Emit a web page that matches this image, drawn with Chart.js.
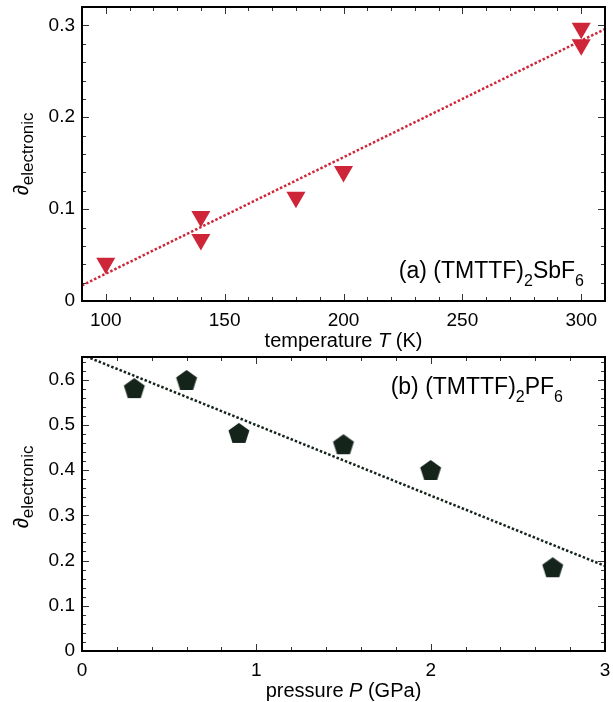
<!DOCTYPE html>
<html>
<head>
<meta charset="utf-8">
<script src="https://cdn.jsdelivr.net/npm/chart.js@4.4.1/dist/chart.umd.min.js"></script>
<style>
  body { margin: 0; background: #fff; }
  canvas { position: absolute; left: 0; }
</style>
</head>
<body>
<canvas id="panelA" width="613" height="352" style="top:0px"></canvas>
<canvas id="panelB" width="613" height="352" style="top:350px"></canvas>
<script>
// (a) (TMTTF)2SbF6 : delta vs temperature
const tempK = [100, 140, 140, 180, 200, 300, 300];
const deltaTemp = [0.041, 0.092, 0.067, 0.113, 0.141, 0.297, 0.279];
const tempFitX = [90, 310];
const tempFitY = [0.017, 0.296];

// (b) (TMTTF)2PF6 : delta vs pressure
const pressureGPa = [0.3, 0.6, 0.9, 1.5, 2.0, 2.7];
const deltaPressure = [0.579, 0.597, 0.48, 0.455, 0.398, 0.183];
const pressureFitX = [0, 3];
const pressureFitY = [0.655, 0.188];

// labelled ticks
const tempTicks = [100, 150, 200, 250, 300];
const tempDeltaTicks = [0, 0.1, 0.2, 0.3];
const pressureTicks = [0, 1, 2, 3];
const pressureDeltaTicks = [0, 0.1, 0.2, 0.3, 0.4, 0.5, 0.6];

const FONT = '"Liberation Sans", Arial, Helvetica, sans-serif';
const RED = '#cf2538';
const DARK = '#15241a';

function pts(xs, ys) {
  return xs.map((x, i) => ({ x: x, y: ys[i] }));
}

// filled pentagon used as a point style
function pentagonSprite(r, color) {
  const c = document.createElement('canvas');
  const size = Math.ceil(r * 2 + 2);
  c.width = size; c.height = size;
  const g = c.getContext('2d');
  g.fillStyle = color;
  g.beginPath();
  for (let i = 0; i < 5; i++) {
    const a = -Math.PI / 2 + i * 2 * Math.PI / 5;
    const px = size / 2 + r * Math.cos(a), py = size / 2 + r * Math.sin(a);
    if (i === 0) g.moveTo(px, py); else g.lineTo(px, py);
  }
  g.closePath();
  g.fill();
  return c;
}

// text runs with subscripts, e.g. [['(a) (TMTTF)',23,0], ['2',16,8], ...]
function runsWidth(ctx, runs) {
  let w = 0;
  runs.forEach(r => { ctx.font = (r[3] || '') + ' ' + r[1] + 'px ' + FONT; w += ctx.measureText(r[0]).width; });
  return w;
}
function drawRuns(ctx, runs, x, y) {
  let cx = x;
  runs.forEach(r => {
    ctx.font = (r[3] || '') + ' ' + r[1] + 'px ' + FONT;
    ctx.fillText(r[0], cx, y + r[2]);
    cx += ctx.measureText(r[0]).width;
  });
}

// frame, inward ticks on all four sides and the text around the plot
const framePlugin = {
  id: 'frame',
  afterDatasetsDraw(chart, args, o) {
    const { ctx, chartArea: a, scales: { x, y } } = chart;
    ctx.save();
    ctx.strokeStyle = '#333';
    ctx.lineWidth = 1;
    ctx.beginPath();
    for (let i = 0; ; i++) {
      const v = o.xStart + i * o.xMinor;
      if (v > x.max + 1e-9) break;
      const len = o.xMajor.some(m => Math.abs(m - v) < 1e-6) ? 7 : 4;
      const px = Math.round(x.getPixelForValue(v)) + 0.5;
      ctx.moveTo(px, a.bottom); ctx.lineTo(px, a.bottom - len);
      ctx.moveTo(px, a.top); ctx.lineTo(px, a.top + len);
    }
    for (let i = 0; ; i++) {
      const v = o.yStart + i * o.yMinor;
      if (v > y.max + 1e-9) break;
      const len = o.yMajor.some(m => Math.abs(m - v) < 1e-6) ? 7 : 4;
      const py = Math.round(y.getPixelForValue(v)) + 0.5;
      ctx.moveTo(a.left, py); ctx.lineTo(a.left + len, py);
      ctx.moveTo(a.right, py); ctx.lineTo(a.right - len, py);
    }
    ctx.stroke();
    ctx.strokeStyle = '#000';
    ctx.lineWidth = 2;
    ctx.strokeRect(a.left, a.top, a.right - a.left, a.bottom - a.top);
    ctx.restore();
  },
  afterDraw(chart, args, o) {
    const ctx = chart.ctx;
    const a = chart.chartArea;
    ctx.save();
    ctx.fillStyle = '#000';
    ctx.textBaseline = 'alphabetic';

    // x-axis title
    const xw = runsWidth(ctx, o.xTitle);
    drawRuns(ctx, o.xTitle, (a.left + a.right) / 2 - xw / 2, o.xTitleBase);

    // rotated y-axis title
    ctx.save();
    ctx.translate(o.yTitleBase, o.yTitleMid);
    ctx.rotate(-Math.PI / 2);
    const yw = runsWidth(ctx, o.yTitle);
    drawRuns(ctx, o.yTitle, -yw / 2, 0);
    ctx.restore();

    // compound name in the corner
    const nw = runsWidth(ctx, o.name);
    drawRuns(ctx, o.name, o.nameRight - nw, o.nameBase);
    ctx.restore();
  }
};

const yTitleRuns = [['\u2202', 21, 0], ['electronic', 17, 5]];

// plot box wanted in each canvas: left, right, top, bottom
const BOX = { left: 82, right: 605, top: 7, bottom: 301 };

function noEdgePadding(s) {
  s.paddingLeft = 0; s.paddingRight = 0; s.paddingTop = 0; s.paddingBottom = 0;
}

function makePanel(id, datasets, xr, yr, xTicks, yTicks, extra) {
  const tickFont = { family: FONT, size: 19 };
  const chart = new Chart(document.getElementById(id), {
    type: 'scatter',
    data: { datasets: datasets },
    options: {
      responsive: false,
      animation: false,
      devicePixelRatio: 1,
      layout: { autoPadding: false, padding: { top: BOX.top, right: 613 - BOX.right, left: 0, bottom: 0 } },
      plugins: { legend: { display: false }, tooltip: { enabled: false }, frame: extra },
      scales: {
        x: {
          type: 'linear', min: xr[0], max: xr[1],
          grid: { display: false, drawTicks: false },
          border: { display: false },
          afterBuildTicks: s => { s.ticks = xTicks.map(v => ({ value: v })); },
          afterFit: s => { s.height = 352 - BOX.bottom; noEdgePadding(s); },
          ticks: { padding: 8, color: '#000', font: tickFont, autoSkip: false, maxRotation: 0,
                   callback: v => String(v) }
        },
        y: {
          type: 'linear', min: yr[0], max: yr[1],
          grid: { display: false, drawTicks: false },
          border: { display: false },
          afterBuildTicks: s => { s.ticks = yTicks.map(v => ({ value: v })); },
          afterFit: s => { s.width = BOX.left; noEdgePadding(s); },
          ticks: { padding: 7, color: '#000', font: tickFont, callback: v => String(v) }
        }
      }
    },
    plugins: [framePlugin]
  });
  // nudge the outer padding until the plot box sits where it should
  const ca = chart.chartArea;
  const dTop = BOX.top - ca.top, dRight = ca.right - BOX.right;
  if (Math.abs(dTop) > 0.5 || Math.abs(dRight) > 0.5) {
    const p = chart.options.layout.padding;
    chart.options.layout.padding = { top: p.top + dTop, right: p.right + dRight, left: 0, bottom: 0 };
    chart.update();
  }
  return chart;
}

makePanel('panelA', [
  {
    data: pts(tempFitX, tempFitY), showLine: true, pointRadius: 0,
    borderColor: RED, borderWidth: 2.5, borderDash: [2.5, 2]
  },
  {
    data: pts(tempK, deltaTemp), pointStyle: 'triangle', rotation: 180,
    pointRadius: 11, backgroundColor: RED, borderWidth: 0
  }
], [90, 310], [0, 0.32], tempTicks, tempDeltaTicks, {
  xStart: 90, xMinor: 10, xMajor: tempTicks,
  yStart: 0, yMinor: 0.02, yMajor: tempDeltaTicks,
  xTitle: [['temperature ', 20, 0], ['T', 20, 0, 'italic'], [' (K)', 20, 0]],
  xTitleBase: 347,
  yTitle: yTitleRuns, yTitleBase: 28, yTitleMid: 154,
  name: [['(a) (TMTTF)', 23, 0], ['2', 16, 8], ['SbF', 23, 0], ['6', 16, 8]],
  nameRight: 584, nameBase: 278
});

makePanel('panelB', [
  {
    data: pts(pressureFitX, pressureFitY), showLine: true, pointRadius: 0,
    borderColor: DARK, borderWidth: 2.5, borderDash: [2.5, 2]
  },
  {
    data: pts(pressureGPa, deltaPressure), pointStyle: pentagonSprite(11, DARK),
    pointRadius: 10, borderWidth: 0
  }
], [0, 3], [0, 0.65], pressureTicks, pressureDeltaTicks, {
  xStart: 0, xMinor: 0.2, xMajor: pressureTicks,
  yStart: 0, yMinor: 0.02, yMajor: pressureDeltaTicks,
  xTitle: [['pressure ', 20, 0], ['P', 20, 0, 'italic'], [' (GPa)', 20, 0]],
  xTitleBase: 347,
  yTitle: yTitleRuns, yTitleBase: 28, yTitleMid: 137,
  name: [['(b) (TMTTF)', 23, 0], ['2', 16, 8], ['PF', 23, 0], ['6', 16, 8]],
  nameRight: 563, nameBase: 44
});
</script>
</body>
</html>
